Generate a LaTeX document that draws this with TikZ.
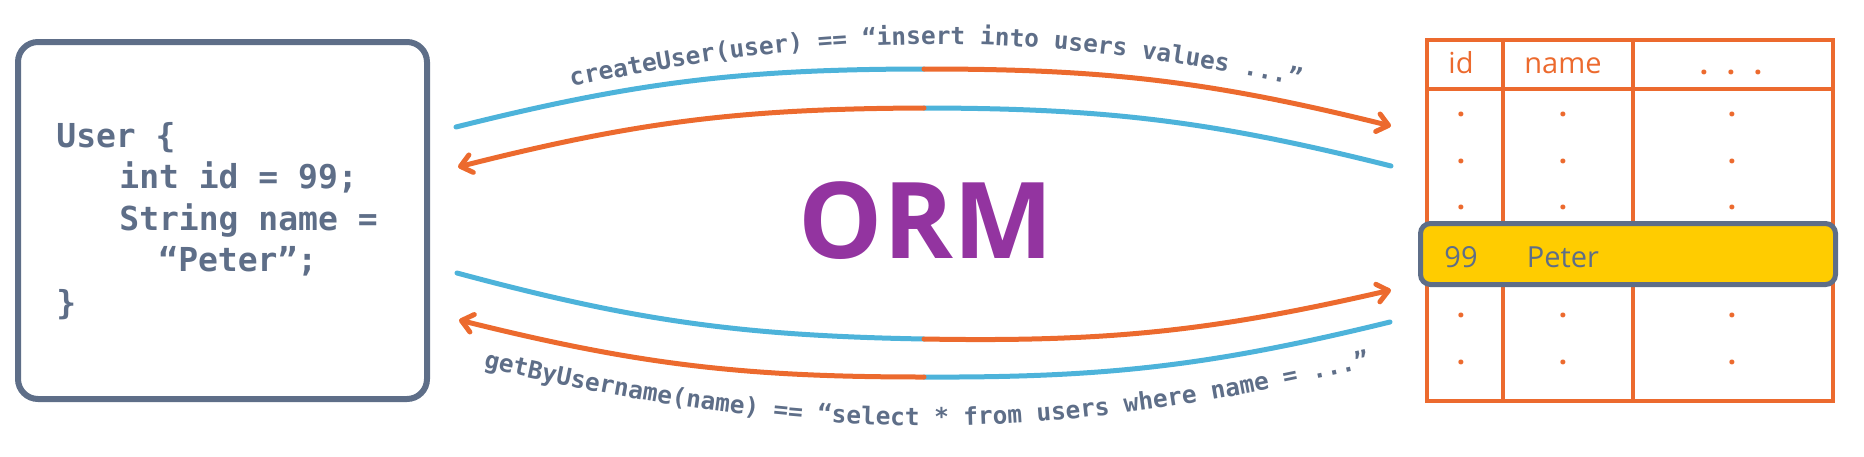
\documentclass[tikz,border=0pt]{standalone}
\usepackage{fontspec}
\setmainfont{Open Sans}
\newfontfamily\codefont{DejaVu Sans Mono}
\usepackage{tikz}
\usetikzlibrary{arrows.meta, decorations.text}

\definecolor{slate}{HTML}{5E6E88}
\definecolor{ormorange}{HTML}{EC6A2E}
\definecolor{ormblue}{HTML}{4DB3DA}
\definecolor{ormpurple}{HTML}{9334A0}
\definecolor{rowyellow}{HTML}{FFCC00}

\begin{document}
\begin{tikzpicture}[
    x=0.5pt, y=-0.5pt,
    code/.style={anchor=base west, inner sep=0pt, text=slate, font=\codefont\bfseries\fontsize{16.5pt}{20pt}\selectfont},
    objbox/.style={draw=slate, line width=3pt, rounded corners=10pt, minimum width=204.5pt, minimum height=178.5pt},
    tablebox/.style={draw=ormorange, line width=2pt, minimum width=203pt, minimum height=180.5pt},
    cell/.style={inner sep=0pt, text=ormorange, font=\fontsize{14.5pt}{17pt}\selectfont},
    rowtext/.style={anchor=base, inner sep=0pt, text=slate, font=\fontsize{14.5pt}{17pt}\selectfont},
    grid/.style={draw=ormorange, line width=2pt},
    rowbox/.style={draw=slate, fill=rowyellow, line width=2.5pt, rounded corners=5pt, minimum width=207.5pt, minimum height=30.5pt},
    bluearc/.style={draw=ormblue, line width=2.5pt, line cap=round},
    orangearc/.style={draw=ormorange, line width=2.5pt, line cap=round},
    arrow/.style={orangearc, -{Straight Barb[length=5.5pt, width=9pt, round]}},
    arclabel/.style={decorate, decoration={text along path, text align=center, text color=slate,
        text={|\codefont\bfseries\fontsize{12.2pt}{14pt}\selectfont|#1}}}
]
\useasboundingbox (0,0) rectangle (1864,456);

\node[objbox] (obj) at (222.5,220.5) {};
\node[code] (line1) at (56,147) {User \{};
\node[code] (line2) at (119,188.5) {int id = 99;};
\node[code] (line3) at (119,230) {String name =};
\node[code] (line4) at (158,271.5) {“Peter”;};
\node[code] (line5) at (56,314) {\}};

\node[tablebox] (tbl) at (1630,220.5) {};
\draw[grid] (1503,40) -- (1503,401);
\draw[grid] (1633,40) -- (1633,401);
\draw[grid] (1427,89) -- (1833,89);
\node[cell, anchor=base] (colid) at (1461,73) {id};
\node[cell, anchor=base] (colname) at (1563,73) {name};
\node[cell, font=\bfseries\fontsize{14.5pt}{17pt}\selectfont] (colmore) at (1731,72) {.\hspace{9.4pt}.\hspace{9.4pt}.};
\foreach \y in {114,161,207,315,362}
  \foreach \x in {1461,1563,1732}
    \node[cell, font=\bfseries\fontsize{14.5pt}{17pt}\selectfont] (dot-\x-\y) at (\x,\y) {.};

\node[rowbox] (row) at (1628,254) {};
\node[rowtext] (rowid) at (1461,267) {99};
\node[rowtext] (rowname) at (1563,267) {Peter};

\node[text=ormpurple, font=\bfseries\fontsize{53pt}{58pt}\selectfont] (orm) at (926,220.5) {ORM};

\coordinate (a1) at (456,127);
\coordinate (am) at (924,69);
\coordinate (a2) at (1391,126);
\coordinate (b1) at (1391,166);
\coordinate (bm) at (924,108);
\coordinate (b2) at (458,167);
\coordinate (c1) at (457,273);
\coordinate (cm) at (924,339);
\coordinate (c2) at (1391,290);
\coordinate (d1) at (1390,322);
\coordinate (dm) at (924,377);
\coordinate (d2) at (459,320);
\coordinate (t1) at (468,111);
\coordinate (t2) at (1403,110);
\coordinate (u1) at (461,362);
\coordinate (u2) at (1392,362);

\draw[bluearc] (a1) to[bend left=7] (am);
\draw[arrow] (am) to[bend left=7] (a2);
\draw[bluearc] (b1) to[bend right=7] (bm);
\draw[arrow] (bm) to[bend right=7] (b2);
\draw[bluearc] (c1) to[bend right=7] (cm);
\draw[arrow] (cm) to[bend right=7] (c2);
\draw[bluearc] (d1) to[bend left=7] (dm);
\draw[arrow] (dm) to[bend left=7] (d2);

\path[arclabel={createUser(user) == “insert into users values ...”}] (t1) to[bend left=14] (t2);
\path[arclabel={getByUsername(name) == “select * from users where name = ...”}] (u1) to[bend right=13.5] (u2);
\end{tikzpicture}
\end{document}
